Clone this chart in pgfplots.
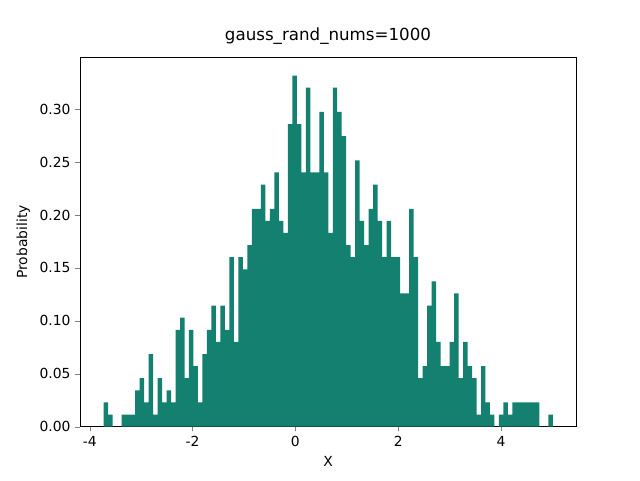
\documentclass[border=0pt]{standalone}
\usepackage{pgfplots}
\pgfplotsset{compat=1.18}
\usepackage{pgfplotstable}
\usepackage{fontspec}
\setmainfont{DejaVu Sans}
\definecolor{bar}{RGB}{20,128,112}
\pgfplotstableread{
i c
0 2
1 1
2 0
3 0
4 1
5 1
6 1
7 3
8 4
9 2
10 6
11 1
12 4
13 2
14 3
15 2
16 8
17 9
18 4
19 8
20 5
21 2
22 6
23 8
24 10
25 7
26 10
27 8
28 14
29 7
30 14
31 13
32 15
33 18
34 18
35 20
36 17
37 18
38 21
39 17
40 16
41 25
42 29
43 25
44 21
45 28
46 21
47 21
48 26
49 21
50 16
51 28
52 26
53 24
54 15
55 14
56 22
57 17
58 15
59 18
60 20
61 17
62 14
63 17
64 14
65 14
66 11
67 11
68 18
69 14
70 4
71 5
72 10
73 12
74 7
75 5
76 5
77 7
78 11
79 4
80 7
81 5
82 4
83 1
84 5
85 2
86 1
87 0
88 1
89 2
90 1
91 2
92 2
93 2
94 2
95 2
96 2
97 0
98 0
99 1
100 1
}\hist
\begin{document}
\fontsize{10.4}{12}\selectfont
\begin{tikzpicture}
\useasboundingbox (-60pt,-40pt) rectangle (420pt,320pt);
\begin{axis}[at={(0,0)},anchor=south west,
scale only axis, width=372pt, height=277pt,
xmin=-4.19, xmax=5.46, ymin=0, ymax=0.349,
xtick={-4,-2,0,2,4}, ytick={0,0.05,...,0.30},
yticklabel style={/pgf/number format/.cd,fixed,fixed zerofill,precision=2},
/pgf/number format/assume math mode=true,
tick align=outside, tick pos=left,
major tick length=3.5pt,
xlabel={X}, ylabel={Probability},
title={\fontsize{12.5}{14}\selectfont gauss\_rand\_nums=1000},
ticklabel style={font=\fontsize{10.4}{12}\selectfont},
]
\addplot[ybar interval, fill=bar, draw=none]
  table[x expr={-3.73+\thisrow{i}*0.0874}, y expr={\thisrow{c}*0.01144}] {\hist};
\end{axis}
\end{tikzpicture}
\end{document}
